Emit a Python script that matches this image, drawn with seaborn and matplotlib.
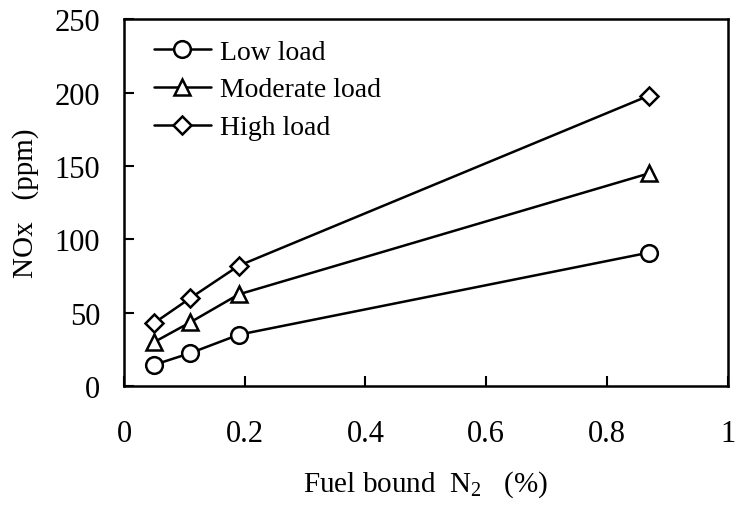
import seaborn as sns
import matplotlib.pyplot as plt
import pandas as pd

# datos
fuel_n2 = [0.05, 0.11, 0.19, 0.87]
low_load = [14.5, 22.5, 35, 91]
moderate_load = [30, 43.5, 62.5, 145]
high_load = [43, 60, 82, 198]

series = {
    "Low load": (low_load, "o", 12),
    "Moderate load": (moderate_load, "^", 12),
    "High load": (high_load, "D", 9),
}

sns.set_theme(style="ticks")
plt.rcParams['font.family'] = ['Liberation Serif', 'DejaVu Serif']
plt.rcParams['mathtext.fontset'] = 'custom'
plt.rcParams['mathtext.rm'] = 'Liberation Serif'
plt.rcParams['mathtext.it'] = 'Liberation Serif'
for k in ['text.color', 'axes.labelcolor', 'xtick.color', 'ytick.color', 'axes.edgecolor']:
    plt.rcParams[k] = 'black'

fig = plt.figure(figsize=(7.38, 5.06), dpi=100)
ax = fig.add_axes([0.168, 0.235, 0.818, 0.725])

for name, (vals, mk, ms) in series.items():
    df = pd.DataFrame({"x": fuel_n2, "y": vals})
    sns.lineplot(data=df, x="x", y="y", ax=ax, color="black", linewidth=1.8,
                 marker=mk, markersize=ms,
                 markerfacecolor="white", markeredgecolor="black",
                 markeredgewidth=1.8, label=name)

ax.set_xlim(0, 1)
ax.set_ylim(0, 250)
ax.set_xticks([0, 0.2, 0.4, 0.6, 0.8, 1])
ax.set_xticklabels(["0", "0.2", "0.4", "0.6", "0.8", "1"])
ax.set_yticks([0, 50, 100, 150, 200, 250])
ax.tick_params(direction="in", length=7, width=1.5, labelsize=22)
ax.tick_params(axis="x", pad=24)
ax.tick_params(axis="y", pad=17)
for s in ax.spines.values():
    s.set_linewidth(1.8)

ax.set_xlabel("Fuel bound  N$_2$   (%)", fontsize=21, labelpad=14)
ax.set_ylabel("NOx   (ppm)", fontsize=21, labelpad=11)

ax.legend(loc="upper left", bbox_to_anchor=(0.008, 1.014), frameon=False,
          fontsize=20, handlelength=2.05, handletextpad=0.35, labelspacing=0.45)

fig.savefig("out.png", dpi=100)
